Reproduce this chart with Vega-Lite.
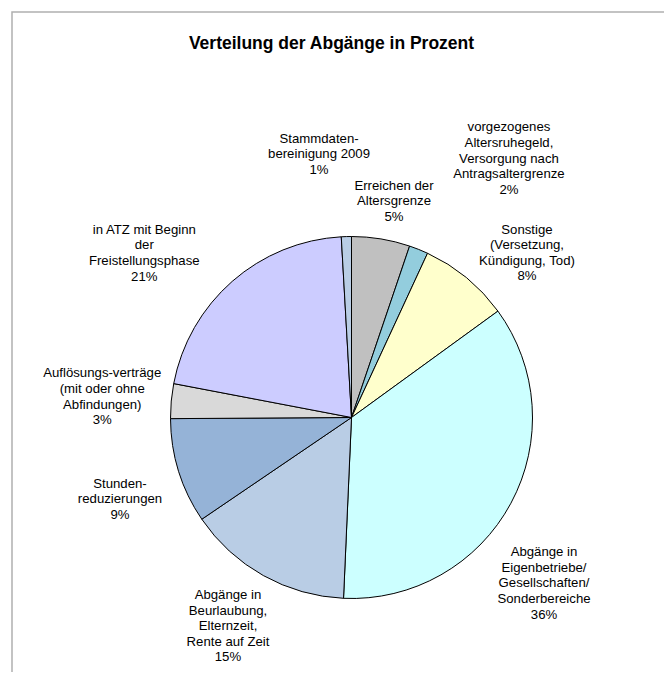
{
  "$schema": "https://vega.github.io/schema/vega-lite/v6.json",
  "width": 679,
  "height": 811,
  "autosize": {"type": "none"},
  "padding": {"left": 12, "top": 12, "right": -27, "bottom": -151},
  "background": "white",
  "view": {"stroke": "#b0b0b0", "strokeWidth": 1.5},
  "title": {
    "text": "Verteilung der Abgänge in Prozent",
    "font": "Liberation Sans",
    "fontSize": 17.5,
    "fontWeight": "bold",
    "color": "black",
    "anchor": "middle",
    "frame": "group",
    "offset": -40,
    "dx": -20
  },
  "config": {
    "text": {"font": "Liberation Sans", "fontSize": 13.2, "lineHeight": 15.6, "color": "black"}
  },
  "data": {
    "values": [
      {"idx": 1, "cat": "Erreichen der Altersgrenze", "value": 5.2, "label": "Erreichen der\nAltersgrenze\n5%"},
      {"idx": 2, "cat": "vorgezogenes Altersruhegeld", "value": 1.7, "label": "vorgezogenes\nAltersruhegeld,\nVersorgung nach\nAntragsaltergrenze\n2%"},
      {"idx": 3, "cat": "Sonstige", "value": 8.1, "label": "Sonstige\n(Versetzung,\nKündigung, Tod)\n8%"},
      {"idx": 4, "cat": "Eigenbetriebe", "value": 35.7, "label": "Abgänge in\nEigenbetriebe/\nGesellschaften/\nSonderbereiche\n36%"},
      {"idx": 5, "cat": "Beurlaubung", "value": 14.8, "label": "Abgänge in\nBeurlaubung,\nElternzeit,\nRente auf Zeit\n15%"},
      {"idx": 6, "cat": "Stundenreduzierungen", "value": 9.4, "label": "Stunden-\nreduzierungen\n9%"},
      {"idx": 7, "cat": "Auflösungsverträge", "value": 3.1, "label": "Auflösungs-verträge\n(mit oder ohne\nAbfindungen)\n3%"},
      {"idx": 8, "cat": "ATZ", "value": 21.1, "label": "in ATZ mit Beginn\nder\nFreistellungsphase\n21%"},
      {"idx": 9, "cat": "Stammdatenbereinigung", "value": 0.9, "label": "Stammdaten-\nbereinigung 2009\n1%"}
    ]
  },
  "encoding": {
    "theta": {"field": "value", "type": "quantitative", "stack": true},
    "order": {"field": "idx", "type": "quantitative"}
  },
  "layer": [
    {
      "mark": {"type": "arc", "outerRadius": 181, "stroke": "black", "strokeWidth": 1},
      "encoding": {
        "color": {
          "field": "cat",
          "type": "nominal",
          "legend": null,
          "scale": {
            "domain": ["Erreichen der Altersgrenze", "vorgezogenes Altersruhegeld", "Sonstige", "Eigenbetriebe", "Beurlaubung", "Stundenreduzierungen", "Auflösungsverträge", "ATZ", "Stammdatenbereinigung"],
            "range": ["#C0C0C0", "#93CDDD", "#FFFFCC", "#CCFFFF", "#B9CDE5", "#95B3D7", "#D9D9D9", "#CCCCFF", "#B9CDE5"]
          }
        }
      }
    },
    {
      "mark": {"type": "text", "radius": 250, "dx": 1.8, "dy": 14.7, "lineBreak": "\n"},
      "encoding": {"text": {"condition": {"test": "datum.idx === 1", "field": "label"}, "value": ""}}
    },
    {
      "mark": {"type": "text", "radius": 250, "dx": 64.7, "dy": -58, "lineBreak": "\n"},
      "encoding": {"text": {"condition": {"test": "datum.idx === 2", "field": "label"}, "value": ""}}
    },
    {
      "mark": {"type": "text", "radius": 250, "dx": 16.7, "dy": 5.2, "lineBreak": "\n"},
      "encoding": {"text": {"condition": {"test": "datum.idx === 3", "field": "label"}, "value": ""}}
    },
    {
      "mark": {"type": "text", "radius": 250, "dx": -27.7, "dy": 16.4, "lineBreak": "\n"},
      "encoding": {"text": {"condition": {"test": "datum.idx === 4", "field": "label"}, "value": ""}}
    },
    {
      "mark": {"type": "text", "radius": 250, "dx": -1.7, "dy": -40.8, "lineBreak": "\n"},
      "encoding": {"text": {"condition": {"test": "datum.idx === 5", "field": "label"}, "value": ""}}
    },
    {
      "mark": {"type": "text", "radius": 250, "dx": 7.2, "dy": -8, "lineBreak": "\n"},
      "encoding": {"text": {"condition": {"test": "datum.idx === 6", "field": "label"}, "value": ""}}
    },
    {
      "mark": {"type": "text", "radius": 250, "dx": -0.3, "dy": -21.3, "lineBreak": "\n"},
      "encoding": {"text": {"condition": {"test": "datum.idx === 7", "field": "label"}, "value": ""}}
    },
    {
      "mark": {"type": "text", "radius": 250, "dx": -42.5, "dy": 0.3, "lineBreak": "\n"},
      "encoding": {"text": {"condition": {"test": "datum.idx === 8", "field": "label"}, "value": ""}}
    },
    {
      "mark": {"type": "text", "radius": 250, "dx": -25.4, "dy": -28.9, "lineBreak": "\n"},
      "encoding": {"text": {"condition": {"test": "datum.idx === 9", "field": "label"}, "value": ""}}
    }
  ]
}
